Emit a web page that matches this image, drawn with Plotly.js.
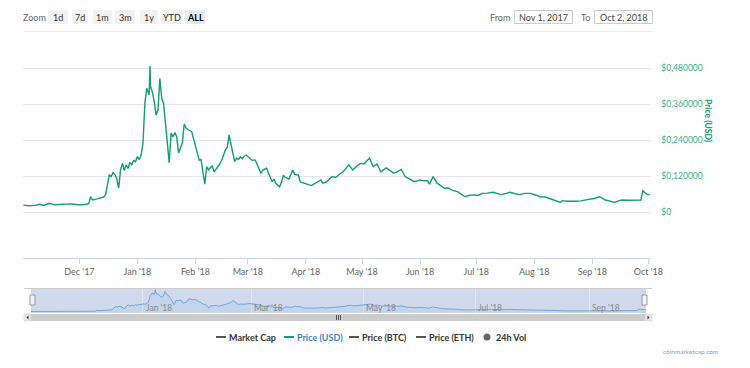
<!DOCTYPE html>
<html>
<head>
<meta charset="utf-8">
<script src="https://cdn.plot.ly/plotly-3.0.1.min.js"></script>
<style>html,body{margin:0;padding:0;background:#fff;}#chart{width:750px;height:368px;}</style>
</head>
<body>
<div id="chart"></div>
<script>
// ---- data ----
const dates = [
"2017-11-01","2017-11-04","2017-11-07","2017-11-10","2017-11-12","2017-11-15","2017-11-18","2017-11-21","2017-11-23","2017-11-26","2017-11-28",
"2017-12-01","2017-12-04","2017-12-06","2017-12-07","2017-12-08","2017-12-10","2017-12-12","2017-12-14","2017-12-15","2017-12-16","2017-12-17","2017-12-18","2017-12-19","2017-12-20","2017-12-21","2017-12-22","2017-12-23","2017-12-24","2017-12-25","2017-12-26","2017-12-27","2017-12-28","2017-12-29","2017-12-30","2017-12-31",
"2018-01-01","2018-01-02","2018-01-03","2018-01-04","2018-01-05","2018-01-06","2018-01-07 06:00","2018-01-07 18:00","2018-01-08","2018-01-09","2018-01-10","2018-01-11","2018-01-12","2018-01-13","2018-01-14","2018-01-15","2018-01-16","2018-01-17","2018-01-18","2018-01-19","2018-01-20","2018-01-21","2018-01-22","2018-01-23","2018-01-24","2018-01-25","2018-01-26","2018-01-27","2018-01-28","2018-01-29","2018-01-30","2018-01-31",
"2018-02-01","2018-02-02","2018-02-03","2018-02-04","2018-02-05","2018-02-06","2018-02-07","2018-02-08","2018-02-09","2018-02-10","2018-02-11","2018-02-12","2018-02-13","2018-02-14","2018-02-15","2018-02-16","2018-02-17","2018-02-18","2018-02-19","2018-02-20","2018-02-21","2018-02-22","2018-02-23","2018-02-24","2018-02-25","2018-02-26","2018-02-27","2018-02-28",
"2018-03-02","2018-03-03","2018-03-05","2018-03-06","2018-03-08","2018-03-09","2018-03-11","2018-03-12","2018-03-14","2018-03-15","2018-03-16","2018-03-18","2018-03-19","2018-03-20","2018-03-21","2018-03-23","2018-03-25","2018-03-26","2018-03-28","2018-03-29","2018-03-31",
"2018-04-02","2018-04-04","2018-04-06","2018-04-09","2018-04-10","2018-04-12","2018-04-15","2018-04-17","2018-04-19","2018-04-21","2018-04-24","2018-04-26","2018-04-28","2018-04-30",
"2018-05-02","2018-05-05","2018-05-07","2018-05-09","2018-05-11","2018-05-14","2018-05-16","2018-05-18","2018-05-20","2018-05-22","2018-05-24","2018-05-26","2018-05-29",
"2018-06-01","2018-06-03","2018-06-05","2018-06-06","2018-06-08","2018-06-10","2018-06-12","2018-06-14","2018-06-16","2018-06-18","2018-06-21","2018-06-23","2018-06-25","2018-06-27","2018-06-30",
"2018-07-02","2018-07-04","2018-07-07","2018-07-10","2018-07-12","2018-07-14","2018-07-17","2018-07-19","2018-07-22","2018-07-24","2018-07-27","2018-07-30",
"2018-08-02","2018-08-04","2018-08-07","2018-08-09","2018-08-12","2018-08-15","2018-08-16","2018-08-19","2018-08-23","2018-08-26","2018-08-30",
"2018-09-02","2018-09-05","2018-09-08","2018-09-10","2018-09-13","2018-09-15","2018-09-17","2018-09-20","2018-09-24","2018-09-27","2018-09-28","2018-09-29","2018-09-30",
"2018-10-01","2018-10-02"
];
const priceUSD = [
0.023,0.021,0.022,0.026,0.022,0.029,0.024,0.026,0.025,0.027,0.026,
0.024,0.025,0.028,0.051,0.040,0.043,0.046,0.050,0.057,0.090,0.123,0.118,0.132,0.125,0.110,0.080,0.140,0.163,0.138,0.157,0.145,0.165,0.158,0.172,0.168,
0.185,0.175,0.190,0.230,0.363,0.413,0.390,0.487,0.418,0.400,0.368,0.323,0.340,0.445,0.380,0.360,0.297,0.240,0.164,0.263,0.250,0.265,0.251,0.197,0.215,0.230,0.293,0.280,0.275,0.272,0.268,0.245,
0.218,0.190,0.173,0.175,0.140,0.093,0.151,0.140,0.148,0.153,0.134,0.142,0.153,0.160,0.172,0.190,0.207,0.215,0.257,0.225,0.196,0.168,0.180,0.175,0.184,0.178,0.186,0.190,
0.180,0.173,0.173,0.160,0.129,0.140,0.146,0.130,0.101,0.110,0.095,0.084,0.100,0.123,0.115,0.110,0.140,0.125,0.123,0.100,0.095,
0.092,0.088,0.095,0.107,0.096,0.100,0.118,0.115,0.126,0.135,0.157,0.140,0.152,0.162,
0.160,0.179,0.151,0.160,0.134,0.147,0.138,0.129,0.135,0.142,0.118,0.112,0.101,
0.107,0.104,0.104,0.093,0.118,0.097,0.088,0.079,0.080,0.073,0.068,0.060,0.051,0.055,0.057,
0.055,0.062,0.063,0.066,0.062,0.058,0.062,0.066,0.061,0.058,0.062,0.062,
0.056,0.051,0.050,0.046,0.040,0.032,0.038,0.036,0.036,0.037,0.042,
0.045,0.051,0.040,0.037,0.032,0.037,0.040,0.039,0.041,0.040,0.071,0.065,0.060,
0.058,0.057
];
const yTickVals = [0, 0.12, 0.24, 0.36, 0.48];
const yTickText = ["$0", "$0,120000", "$0,240000", "$0,360000", "$0,480000"];
const xTickVals = ["2017-12-01","2018-01-01","2018-02-01","2018-03-01","2018-04-01","2018-05-01","2018-06-01","2018-07-01","2018-08-01","2018-09-01","2018-10-01"];
const xTickText = ["Dec '17","Jan '18","Feb '18","Mar '18","Apr '18","May '18","Jun '18","Jul '18","Aug '18","Sep '18","Oct '18"];
const navTickVals = ["2018-01-01","2018-03-01","2018-05-01","2018-07-01","2018-09-01"];
const navTickText = ["Jan '18","Mar '18","May '18","Jul '18","Sep '18"];
const zoomButtons = ["1d","7d","1m","3m","1y","YTD","ALL"];
const legendNames = ["Market Cap","Price (USD)","Price (BTC)","Price (ETH)","24h Vol"];
const fromDate = "Nov 1, 2017";
const toDate = "Oct 2, 2018";

// ---- helpers for paper coordinates ----
const W = 750, H = 368;
const px = x => x / W;
const py = y => 1 - y / H;
const FONT = 'Lato, "Open Sans", sans-serif';
const GREEN = '#129d70';

const shapes = [];
const annotations = [];
function rect(x0, y0, x1, y1, fill, line, lw) {
  shapes.push({type:'rect', xref:'paper', yref:'paper', x0:px(x0), x1:px(x1), y0:py(y1), y1:py(y0),
    fillcolor:fill, line:{color:line||'rgba(0,0,0,0)', width:lw||0}, layer:'above'});
}
function hline(x0, x1, y, color, w) {
  shapes.push({type:'line', xref:'paper', yref:'paper', x0:px(x0), x1:px(x1), y0:py(y), y1:py(y), line:{color:color, width:w||1}, layer:'above'});
}
function text(x, y, t, opts) {
  opts = opts || {};
  annotations.push(Object.assign({xref:'paper', yref:'paper', x:px(x), y:py(y), text:t, showarrow:false,
    xanchor:'center', yanchor:'middle', font:{family:FONT, size:9, color:'#333'}}, opts));
}

// range selector
text(34, 17, 'Zoom', {font:{family:FONT, size:9, color:'#666'}});
const btnX = [[48,68],[72,88],[93,112],[115,135],[140,158],[162,182],[185,205]];
zoomButtons.forEach((b, i) => {
  const sel = b === 'ALL';
  rect(btnX[i][0], 10, btnX[i][1], 24, sel ? '#e6ebf5' : '#f2f2f2');
  text((btnX[i][0]+btnX[i][1])/2, 17, sel ? '<b>'+b+'</b>' : b, {font:{family:FONT, size:9, color: sel ? '#000' : '#333'}});
});
// date inputs
text(500, 17, 'From', {font:{family:FONT, size:9, color:'#666'}});
rect(514.5, 10.5, 572.5, 23.5, '#fff', '#cccccc', 1);
text(543.5, 17, fromDate, {font:{family:FONT, size:9, color:'#444'}});
text(585, 17, 'To', {font:{family:FONT, size:9, color:'#666'}});
rect(594.5, 10.5, 652.5, 23.5, '#fff', '#cccccc', 1);
text(623.5, 17, toDate, {font:{family:FONT, size:9, color:'#444'}});
hline(24, 652, 31.5, '#ececec', 1);

// y axis title
text(708, 121, '<b>Price (USD)</b>', {textangle:90, font:{family:FONT, size:8.5, color:GREEN}});

// navigator decorations
shapes.push({type:'rect', xref:'paper', yref:'paper', x0:px(31), x1:px(646), y0:py(313), y1:py(289),
  fillcolor:'rgba(102,133,194,0.3)', line:{width:0}, layer:'below'});
hline(24, 652, 288.5, '#cccccc', 1);
rect(30, 295, 35, 305, '#f2f2f2', '#999999', 1);
rect(642, 295, 647, 305, '#f2f2f2', '#999999', 1);
// scrollbar
rect(24, 314, 652, 321, '#f2f2f2');
rect(31, 314, 645, 321, '#cccccc');
rect(24, 314, 31, 321, '#e6e6e6', '#cccccc', 0.5);
rect(645, 314, 652, 321, '#e6e6e6', '#cccccc', 0.5);
[336.5, 338.5, 340.5].forEach(x => shapes.push({type:'line', xref:'paper', yref:'paper', x0:px(x), x1:px(x), y0:py(320), y1:py(315), line:{color:'#333', width:0.8}, layer:'above'}));
shapes.push({type:'path', xref:'paper', yref:'paper', path:`M ${px(26.5)} ${py(317.5)} L ${px(28.5)} ${py(315.5)} L ${px(28.5)} ${py(319.5)} Z`, fillcolor:'#333', line:{width:0}, layer:'above'});
shapes.push({type:'path', xref:'paper', yref:'paper', path:`M ${px(649.5)} ${py(317.5)} L ${px(647.5)} ${py(315.5)} L ${px(647.5)} ${py(319.5)} Z`, fillcolor:'#333', line:{width:0}, layer:'above'});
// navigator labels tied to the navigator x axis
navTickVals.forEach((d, i) => {
  annotations.push({xref:'x2', yref:'paper', x:d, y:py(307.5), text:navTickText[i], showarrow:false,
    xanchor:'left', yanchor:'middle', xshift:1, font:{family:FONT, size:8.5, color:'#888'}});
});

// legend
const legItems = [
  {name:legendNames[0], sx:216, tx:229, color:'#555', tcolor:'#333'},
  {name:legendNames[1], sx:284, tx:297, color:GREEN, tcolor:'#3d7fcc'},
  {name:legendNames[2], sx:349, tx:362, color:'#555', tcolor:'#333'},
  {name:legendNames[3], sx:416, tx:429, color:'#555', tcolor:'#333'}
];
legItems.forEach(it => {
  hline(it.sx, it.sx + 10, 337, it.color, 2);
  text(it.tx - 2, 337, '<b>'+it.name+'</b>', {xanchor:'left', font:{family:FONT, size:9, color:it.tcolor}});
});
shapes.push({type:'circle', xref:'paper', yref:'paper', x0:px(483.5), x1:px(490.5), y0:py(340.5), y1:py(333.5), fillcolor:'#666', line:{width:0}, layer:'above'});
text(494, 337, '<b>'+legendNames[4]+'</b>', {xanchor:'left', font:{family:FONT, size:9, color:'#333'}});

// credits
text(690, 351, 'coinmarketcap.com', {font:{family:FONT, size:6.5, color:'#999'}});

const traces = [
  {x:dates, y:priceUSD, type:'scatter', mode:'lines', line:{color:GREEN, width:1.4}, xaxis:'x', yaxis:'y', hoverinfo:'skip'},
  {x:dates, y:priceUSD, type:'scatter', mode:'lines', fill:'tozeroy', fillcolor:'rgba(124,181,236,0.15)', line:{color:'#6fa8dc', width:1}, xaxis:'x2', yaxis:'y2', hoverinfo:'skip'}
];

const layout = {
  width:W, height:H, margin:{l:0,r:0,t:0,b:0}, showlegend:false,
  paper_bgcolor:'#fff', plot_bgcolor:'rgba(0,0,0,0)',
  font:{family:FONT, size:9, color:'#666'},
  xaxis:{domain:[px(23.2), px(650.3)], anchor:'y', type:'date', range:['2017-11-01','2018-10-02'],
    tickvals:xTickVals, ticktext:xTickText, ticks:'outside', ticklen:5, tickcolor:'#ccd6eb', tickwidth:1,
    showline:true, linecolor:'#ccd6eb', linewidth:1, showgrid:false, zeroline:false,
    tickfont:{family:FONT, size:9, color:'#666'}, fixedrange:true},
  yaxis:{domain:[py(258), py(35)], anchor:'x', side:'right', range:[-0.1533, 0.59],
    tickvals:yTickVals, ticktext:yTickText, showgrid:true, gridcolor:'#e6e6e6', gridwidth:1, zeroline:false,
    showline:false, ticks:'', ticklabelstandoff:10, tickfont:{family:FONT, size:8.5, color:'#3aae86'}, fixedrange:true},
  xaxis2:{domain:[px(31), px(646)], anchor:'y2', type:'date', range:['2017-11-01','2018-10-02'],
    tickvals:navTickVals, showticklabels:false, ticks:'',
    showgrid:true, gridcolor:'rgba(255,255,255,0.4)', showline:false, zeroline:false, fixedrange:true},
  yaxis2:{domain:[py(313), py(289)], anchor:'x2', range:[-0.01, 0.5], visible:false, fixedrange:true},
  shapes:shapes, annotations:annotations
};

Plotly.newPlot('chart', traces, layout, {displayModeBar:false, staticPlot:true});
</script>
</body>
</html>
